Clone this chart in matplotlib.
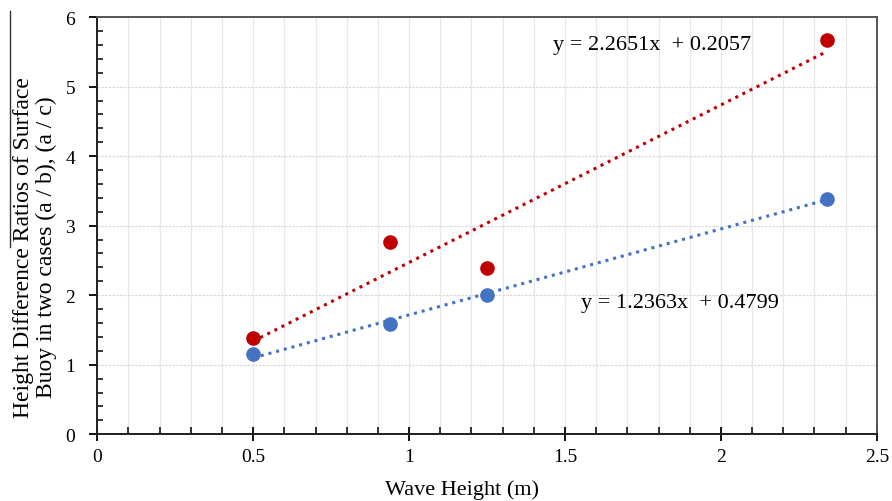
import numpy as np
import matplotlib.pyplot as plt
from matplotlib.ticker import MultipleLocator

plt.rcParams['font.family'] = ['Liberation Serif', 'DejaVu Serif']

# wave height (m) and the two height difference ratios
wave_height = [0.5, 0.94, 1.25, 2.34]
ratio_ab = [1.38, 2.76, 2.39, 5.67]   # red
ratio_ac = [1.15, 1.58, 2.00, 3.38]   # blue

# trendline coefficients as printed on the chart
fit_ab = (2.2651, 0.2057)
fit_ac = (1.2363, 0.4799)

red = '#C00000'
blue = '#4472C4'

fig = plt.figure(figsize=(8.92, 5.02), dpi=100)
ax = fig.add_axes([0.109, 0.133, 0.874, 0.831])

# grid
ax.xaxis.set_major_locator(MultipleLocator(0.5))
ax.xaxis.set_minor_locator(MultipleLocator(0.1))
ax.yaxis.set_major_locator(MultipleLocator(1))
ax.yaxis.set_minor_locator(MultipleLocator(0.2))
ax.grid(which='minor', axis='x', color='#e8e8e8', linewidth=0.9)
ax.grid(which='major', axis='x', color='#e8e8e8', linewidth=0.9)
ax.grid(which='major', axis='y', color='#d9d9d9', linewidth=0.9, linestyle=(0, (2, 1)))
ax.set_axisbelow(True)

# trendlines
xs = np.array([wave_height[0], wave_height[-1]])
ax.plot(xs, fit_ab[0] * xs + fit_ab[1], color=red, linestyle=(0, (1, 1.6)), linewidth=2.2, zorder=2)
ax.plot(xs, fit_ac[0] * xs + fit_ac[1], color=blue, linestyle=(0, (1, 1.6)), linewidth=2.2, zorder=2)

# points
ax.plot(wave_height, ratio_ab, 'o', color=red, markersize=9.5, zorder=3)
ax.plot(wave_height, ratio_ac, 'o', color=blue, markersize=9.5, zorder=3)

ax.text(1.462, 5.6, 'y = %.4fx  + %.4f' % fit_ab, fontsize=16, va='center', ha='left')
ax.text(1.55, 1.9, 'y = %.4fx  + %.4f' % fit_ac, fontsize=16, va='center', ha='left')

ax.set_xlim(0, 2.5)
ax.set_ylim(0, 6)
ax.set_xticks([0, 0.5, 1, 1.5, 2, 2.5])
ax.set_xticklabels(['0', '0.5', '1', '1.5', '2', '2.5'])

ax.tick_params(axis='x', which='major', direction='inout', length=10, width=1.3, labelsize=14, pad=5)
ax.tick_params(axis='x', which='minor', direction='in', length=5, width=1.1)
ax.tick_params(axis='y', which='major', direction='out', length=6, width=1.3, labelsize=14, pad=10)
ax.tick_params(axis='y', which='minor', direction='in', length=4, width=1.1)

for side in ['left', 'bottom']:
    ax.spines[side].set_color('#202020')
    ax.spines[side].set_linewidth(1.4)
for side in ['top', 'right']:
    ax.spines[side].set_color('#555555')
    ax.spines[side].set_linewidth(1.4)

ax.set_xlabel('Wave Height (m)', fontsize=16)
ax.xaxis.set_label_coords(0.468, -0.108)
ax.set_ylabel('Height Difference Ratios of Surface\nBuoy in two cases (a / b), (a / c)',
              fontsize=17, linespacing=1.1)
ax.yaxis.set_label_coords(-0.052, 0.45)

# stray rule above the y label, as in the original figure
fig.add_artist(plt.Line2D([10 / 892, 10 / 892], [1 - 12 / 502, 1 - 248 / 502],
                          color='#333333', linewidth=1.0))

fig.savefig('out.png', dpi=100)
